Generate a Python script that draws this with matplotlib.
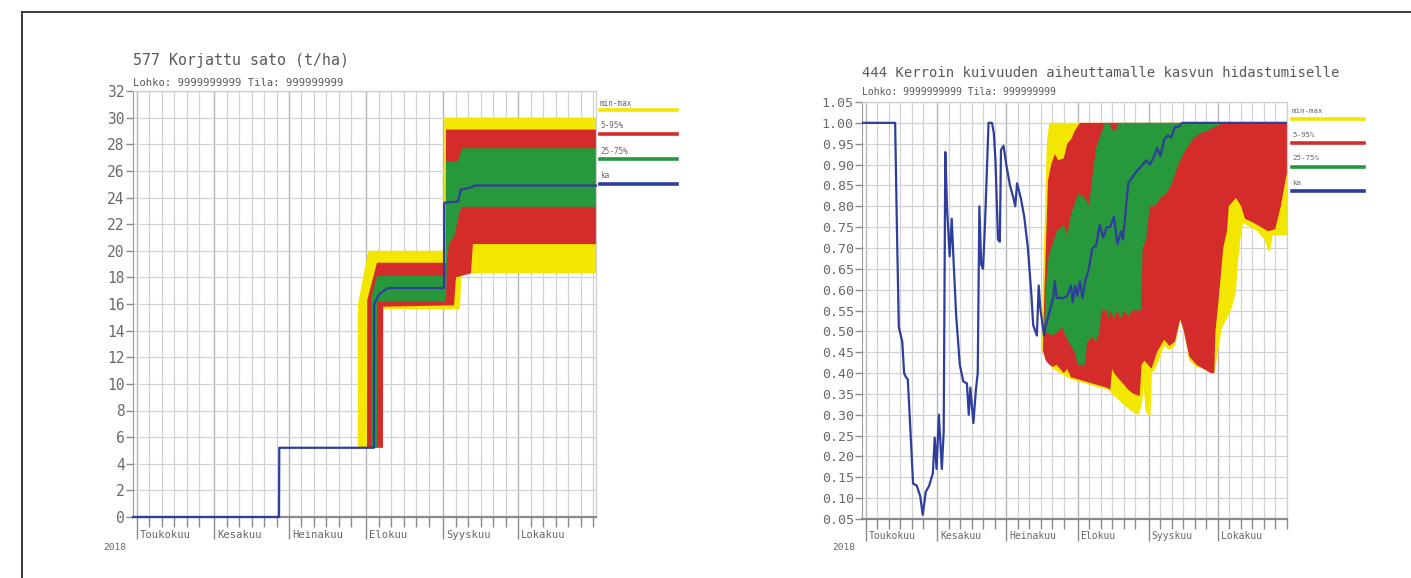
import numpy as np
import matplotlib
matplotlib.use("Agg")
import matplotlib.pyplot as plt
from matplotlib.lines import Line2D

# ---------------------------------------------------------------------------
# Data (x = days since 1 May 2018)
# ---------------------------------------------------------------------------
month_starts = [0, 31, 61, 92, 123, 153]
month_names = ["Toukokuu", "Kesakuu", "Heinakuu", "Elokuu", "Syyskuu", "Lokakuu"]
year_label = "2018"

# 577 Korjattu sato (t/ha)
yield_max_x = [88.6, 88.7, 92.8, 123.2, 123.3, 184.2]
yield_max_y = [5.2, 16.0, 20.0, 20.0, 30.0, 30.0]
yield_min_x = [88.6, 98.7, 98.8, 129.6, 130.2, 184.2]
yield_min_y = [5.2, 5.2, 15.6, 15.6, 18.3, 18.3]
yield_p95_x = [92.3, 92.4, 96.3, 123.9, 124.0, 184.2]
yield_p95_y = [5.2, 16.3, 19.1, 19.1, 29.1, 29.1]
yield_p5_x = [92.3, 98.7, 98.8, 127.2, 128.0, 134.0, 134.8, 184.2]
yield_p5_y = [5.2, 5.2, 15.8, 15.9, 18.0, 18.3, 20.5, 20.5]
yield_p75_x = [93.9, 94.0, 96.3, 123.9, 124.0, 128.8, 130.4, 184.2]
yield_p75_y = [5.2, 16.5, 18.1, 18.1, 26.7, 26.7, 27.7, 27.7]
yield_p25_x = [93.9, 96.3, 96.4, 124.0, 124.4, 125.2, 127.5, 129.6, 130.4, 184.2]
yield_p25_y = [5.2, 5.2, 16.2, 16.2, 19.2, 20.5, 21.2, 23.0, 23.3, 23.3]
yield_mean_x = [-1.6, 57.0, 57.1, 95.1, 95.2, 97.0, 100.7, 123.2, 123.3, 128.8,
                130.0, 133.2, 135.6, 184.2]
yield_mean_y = [0.0, 0.0, 5.2, 5.2, 16.0, 16.7, 17.2, 17.2, 23.6, 23.7,
                24.6, 24.7, 24.9, 24.9]
yield_ticks = list(range(0, 33, 2))
yield_ticklabels = [str(v) for v in yield_ticks]

# 444 Kerroin kuivuuden aiheuttamalle kasvun hidastumiselle
drought_max_x = [76.3, 76.9, 77.9, 78.6, 79.7, 183.0]
drought_max_y = [0.46, 0.62, 0.80, 0.95, 1.00, 1.00]
drought_p95_x = [76.9, 77.6, 78.5, 79.1, 80.5, 82.1, 83.6, 86.0, 87.5, 89.1,
                 90.7, 93.0, 183.0]
drought_p95_y = [0.45, 0.60, 0.75, 0.86, 0.90, 0.925, 0.91, 0.915, 0.95, 0.96,
                 0.98, 1.00, 1.00]
drought_p75_x = [77.4, 78.2, 79.4, 80.5, 82.9, 86.0, 87.5, 89.1, 92.2, 95.3,
                 96.9, 98.4, 100.0, 101.6, 103.9, 105.9, 107.0, 108.6, 109.7, 183.0]
drought_p75_y = [0.50, 0.60, 0.68, 0.70, 0.74, 0.755, 0.73, 0.78, 0.83, 0.82,
                 0.80, 0.87, 0.94, 0.965, 1.00, 1.00, 0.985, 0.98, 1.00, 1.00]
drought_p25_x = [77.4, 81.3, 83.6, 85.2, 86.7, 89.1, 90.7, 92.2, 95.3, 96.1,
                 98.4, 100.0, 101.6, 102.3, 104.7, 105.4, 106.2, 107.8, 109.3, 110.9,
                 112.5, 114.0, 115.6, 119.5, 120.3, 121.8, 123.4, 125.7, 128.0, 130.4,
                 132.7, 135.8, 138.9, 142.1, 145.2, 148.3, 151.4, 156.1, 183.0]
drought_p25_y = [0.50, 0.49, 0.50, 0.51, 0.49, 0.465, 0.45, 0.42, 0.42, 0.475,
                 0.487, 0.475, 0.50, 0.55, 0.55, 0.53, 0.55, 0.53, 0.55, 0.53,
                 0.55, 0.535, 0.55, 0.55, 0.70, 0.72, 0.80, 0.80, 0.82, 0.83,
                 0.85, 0.90, 0.935, 0.96, 0.975, 0.98, 0.99, 1.00, 1.00]
drought_p5_x = [76.6, 78.2, 79.7, 81.3, 82.9, 84.4, 86.0, 87.5, 89.1, 92.2,
                95.3, 98.4, 101.6, 104.7, 106.2, 107.0, 107.8, 109.3, 111.7, 114.0,
                116.3, 119.0, 119.8, 121.0, 122.6, 124.1, 126.5, 129.6, 131.9, 134.3,
                136.6, 138.2, 140.5, 143.6, 146.7, 149.9, 151.4, 151.9, 153.0, 154.5,
                155.3, 156.9, 157.7, 160.8, 163.1, 164.7, 168.6, 171.7, 174.8, 177.9,
                180.3, 182.6, 183.0]
drought_p5_y = [0.46, 0.43, 0.42, 0.415, 0.42, 0.41, 0.40, 0.41, 0.39, 0.385,
                0.38, 0.375, 0.37, 0.365, 0.36, 0.41, 0.40, 0.39, 0.375, 0.36,
                0.35, 0.345, 0.42, 0.43, 0.42, 0.41, 0.45, 0.48, 0.465, 0.475,
                0.53, 0.50, 0.44, 0.42, 0.41, 0.40, 0.40, 0.50, 0.56, 0.65,
                0.70, 0.74, 0.80, 0.82, 0.80, 0.77, 0.76, 0.75, 0.74, 0.745,
                0.80, 0.87, 0.88]
drought_min_x = [76.3, 78.2, 81.3, 86.0, 89.1, 95.3, 101.6, 105.4, 107.8, 110.9,
                 114.0, 116.3, 118.7, 120.0, 120.7, 121.5, 122.6, 123.7, 124.3, 125.7,
                 127.3, 129.6, 131.9, 134.3, 136.6, 138.2, 140.5, 143.6, 146.7, 149.9,
                 151.4, 153.0, 154.5, 157.7, 159.2, 160.8, 161.6, 162.7, 163.9, 170.1,
                 173.2, 174.8, 175.6, 176.7, 183.0]
drought_min_y = [0.46, 0.43, 0.41, 0.395, 0.385, 0.375, 0.365, 0.36, 0.345, 0.33,
                 0.315, 0.305, 0.30, 0.33, 0.37, 0.31, 0.30, 0.30, 0.40, 0.41,
                 0.43, 0.465, 0.455, 0.465, 0.525, 0.50, 0.43, 0.415, 0.41, 0.40,
                 0.40, 0.45, 0.505, 0.54, 0.56, 0.595, 0.66, 0.72, 0.76, 0.74,
                 0.72, 0.695, 0.69, 0.73, 0.73]
drought_mean_x = [-1.7, 12.7, 13.5, 14.3, 15.8, 16.6, 17.4, 18.2, 19.0, 20.5,
                  22.1, 23.6, 24.7, 26.0, 27.5, 29.1, 29.9, 30.7, 31.7, 33.0,
                  33.8, 34.5, 35.3, 36.4, 37.3, 38.0, 39.2, 40.8, 42.3, 43.9,
                  44.7, 45.4, 46.7, 47.8, 48.6, 49.3, 50.1, 50.9, 51.7, 53.3,
                  54.8, 55.6, 56.3, 57.4, 58.2, 58.7, 59.8, 61.0, 62.6, 64.1,
                  64.9, 65.7, 67.3, 68.8, 70.4, 71.2, 72.0, 72.7, 74.3, 75.1,
                  75.8, 77.4, 78.2, 79.7, 81.3, 82.1, 82.9, 84.4, 86.0, 87.5,
                  89.1, 89.9, 90.9, 91.9, 93.0, 94.1, 95.3, 96.9, 98.4, 100.0,
                  101.6, 103.1, 104.7, 106.2, 107.8, 109.3, 110.9, 111.7, 114.0, 117.1,
                  120.3, 121.8, 123.4, 124.9, 126.5, 128.0, 129.6, 131.2, 132.7, 134.3,
                  135.8, 137.4, 183.0]
drought_mean_y = [1.00, 1.00, 0.74, 0.51, 0.475, 0.40, 0.39, 0.385, 0.30, 0.135,
                  0.13, 0.105, 0.06, 0.115, 0.13, 0.16, 0.245, 0.17, 0.30, 0.17,
                  0.26, 0.93, 0.79, 0.68, 0.77, 0.68, 0.54, 0.42, 0.38, 0.375,
                  0.30, 0.365, 0.28, 0.36, 0.40, 0.80, 0.66, 0.65, 0.75, 1.00,
                  1.00, 0.975, 0.91, 0.72, 0.715, 0.935, 0.945, 0.90, 0.85, 0.82,
                  0.80, 0.855, 0.82, 0.775, 0.70, 0.64, 0.58, 0.515, 0.49, 0.61,
                  0.555, 0.49, 0.515, 0.545, 0.58, 0.62, 0.58, 0.58, 0.58, 0.585,
                  0.61, 0.57, 0.61, 0.585, 0.62, 0.58, 0.62, 0.65, 0.70, 0.705,
                  0.755, 0.725, 0.75, 0.75, 0.775, 0.71, 0.74, 0.72, 0.855, 0.88,
                  0.90, 0.91, 0.90, 0.915, 0.94, 0.92, 0.96, 0.97, 0.965, 0.99,
                  0.99, 1.00, 1.00]
drought_ticks = [round(0.05 * k, 2) for k in range(1, 22)]
drought_ticklabels = ["%.2f" % v for v in drought_ticks]

legend_labels = ["min-max", "5-95%", "25-75%", "ka"]

# ---------------------------------------------------------------------------
# Style
# ---------------------------------------------------------------------------
YELLOW = "#f3e600"
RED = "#d42b2b"
GREEN = "#28983c"
BLUE = "#2f3d9c"
TXT = "#5a5a5a"
MONO = "DejaVu Sans Mono"

W, H = 1411, 578
fig = plt.figure(figsize=(W / 100, H / 100), dpi=100)
fig.patch.set_facecolor("white")


def fx(px):
    return px / W


def fy(py):
    return 1 - py / H


def band(ax, ux, uy, lx, ly, color):
    xs = np.concatenate([ux, lx[::-1]])
    ys = np.concatenate([uy, ly[::-1]])
    ax.fill(xs, ys, color=color, lw=0, zorder=2)


def style_axes(ax, xlim, ylim, yticks, yticklabels, ylabsize, mlabsize, mlaboff):
    ax.set_xlim(*xlim)
    ax.set_ylim(*ylim)
    minor = [m + d for m in month_starts for d in (5, 10, 15, 20, 25)] + [183]
    minor = [m for m in minor if xlim[0] < m <= xlim[1]]
    ax.set_xticks(month_starts)
    ax.set_xticks(minor, minor=True)
    ax.set_xticklabels([])
    ax.set_yticks(yticks)
    ax.set_yticklabels(yticklabels, family=MONO, fontsize=ylabsize, color="#6a6a6a")
    ax.tick_params(axis="x", which="major", length=16, width=1.0, color="#8a8a8a")
    ax.tick_params(axis="x", which="minor", length=7, width=1.0, color="#8a8a8a")
    ax.tick_params(axis="y", length=5, width=1.0, color="#8a8a8a", pad=1)
    ax.set_axisbelow(True)
    ax.grid(which="major", axis="x", color="#b4b4b4", lw=1.0)
    ax.grid(which="minor", axis="x", color="#d2d2d2", lw=0.9)
    ax.grid(which="major", axis="y", color="#d2d2d2", lw=0.9)
    for side in ("top", "right"):
        ax.spines[side].set_color("#cfcfcf")
        ax.spines[side].set_linewidth(0.9)
    ax.spines["left"].set_color("#9a9a9a")
    ax.spines["bottom"].set_color("#8a8a8a")
    ax.spines["bottom"].set_linewidth(1.6)
    for m, name in zip(month_starts, month_names):
        ax.annotate(name, xy=(m, 0), xycoords=("data", "axes fraction"),
                    xytext=(2, -mlaboff), textcoords="offset points",
                    ha="left", va="center", family=MONO, fontsize=mlabsize,
                    color="#666666")


def legend(x0, x1, text_ys, line_ys, size):
    colors = [YELLOW, RED, GREEN, BLUE]
    for lab, ty, ly, c in zip(legend_labels, text_ys, line_ys, colors):
        fig.text(fx(x0), fy(ty), lab, family=MONO, fontsize=size,
                 color="#666666", va="center", ha="left")
        fig.add_artist(Line2D([fx(x0), fx(x1)], [fy(ly), fy(ly)],
                              color=c, lw=2.6, transform=fig.transFigure))


# ---------------------------------------------------------------------------
# Left panel: harvested yield
# ---------------------------------------------------------------------------
axL = fig.add_axes([fx(133), fy(517), fx(596) - fx(133), fy(91) - fy(517)])
style_axes(axL, (-1.6, 184.2), (0, 32), yield_ticks, yield_ticklabels, 10.5, 7.6, 13)
band(axL, yield_max_x, yield_max_y, yield_min_x, yield_min_y, YELLOW)
band(axL, yield_p95_x, yield_p95_y, yield_p5_x, yield_p5_y, RED)
band(axL, yield_p75_x, yield_p75_y, yield_p25_x, yield_p25_y, GREEN)
axL.plot(yield_mean_x, yield_mean_y, color=BLUE, lw=1.6, zorder=4, clip_on=False)

fig.text(fx(133), fy(60), "577 Korjattu sato (t/ha)", family=MONO,
         fontsize=10.8, color=TXT, va="center")
fig.text(fx(133), fy(83), "Lohko: 9999999999 Tila: 999999999", family=MONO,
         fontsize=7.6, color=TXT, va="center")
fig.text(fx(103), fy(548), year_label, family=MONO, fontsize=6.8,
         color="#666666", va="center")
legend(600, 677, [103, 125, 152, 175], [109.5, 134, 159, 184], 5.6)

# ---------------------------------------------------------------------------
# Right panel: drought growth factor
# ---------------------------------------------------------------------------
axR = fig.add_axes([fx(862), fy(519), fx(1287) - fx(862), fy(102) - fy(519)])
style_axes(axR, (-1.7, 183.0), (0.05, 1.05), drought_ticks, drought_ticklabels,
           9.6, 7.0, 12.5)
band(axR, drought_max_x, drought_max_y, drought_min_x, drought_min_y, YELLOW)
band(axR, drought_p95_x, drought_p95_y, drought_p5_x, drought_p5_y, RED)
band(axR, drought_p75_x, drought_p75_y, drought_p25_x, drought_p25_y, GREEN)
axR.plot(drought_mean_x, drought_mean_y, color=BLUE, lw=1.6, zorder=4)

fig.text(fx(862), fy(73), "444 Kerroin kuivuuden aiheuttamalle kasvun hidastumiselle",
         family=MONO, fontsize=10.0, color=TXT, va="center")
fig.text(fx(862), fy(92), "Lohko: 9999999999 Tila: 999999999", family=MONO,
         fontsize=7.0, color=TXT, va="center")
fig.text(fx(832), fy(548), year_label, family=MONO, fontsize=6.8,
         color="#666666", va="center")
legend(1292, 1364, [111, 135, 158, 183], [119, 143, 167, 191], 5.4)

# Page frame
fig.add_artist(Line2D([fx(22), fx(22)], [0, fy(12)], color="#3a3a3a", lw=1.4,
                      transform=fig.transFigure))
fig.add_artist(Line2D([fx(22), 1], [fy(12), fy(12)], color="#3a3a3a", lw=1.4,
                      transform=fig.transFigure))

fig.savefig("out.png", dpi=100, facecolor="white")
